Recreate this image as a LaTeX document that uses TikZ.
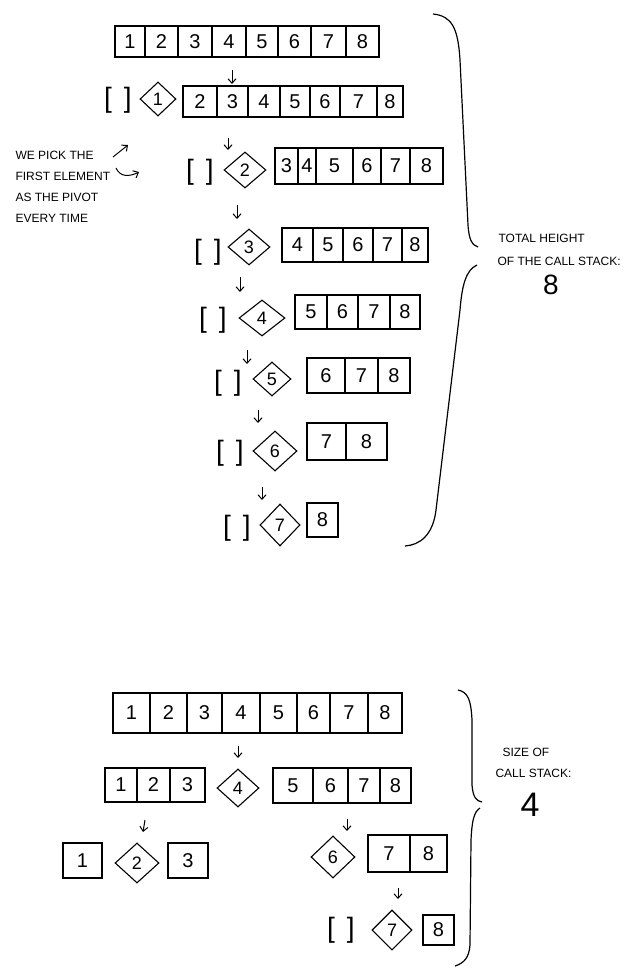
\documentclass[tikz,border=0pt]{standalone}
\usepackage{fontspec}
\setmainfont{Liberation Sans}
\usetikzlibrary{shapes.geometric,arrows.meta}
\newcommand\cellrow[4]{%
  \foreach \a/\b/\l in {#4}{%
    \pgfmathsetmacro\w{\b-\a}\pgfmathsetmacro\h{#3-#2}%
    \pgfmathsetmacro\cx{(\a+\b)/2}\pgfmathsetmacro\cy{(#2+#3)/2}%
    \node[cell, minimum width=\w pt, minimum height=\h pt] (#1\l) at (\cx,\cy) {\l};}}
\newcommand\piv[6]{\node[pivot, minimum width=#4*2pt, minimum height=#5*2pt] (#1) at (#2,#3) {#6};}
\newcommand\darrow[5]{\coordinate (#1s) at (#2,#3); \coordinate (#1e) at (#4,#5); \draw[arr] (#1s) -- (#1e);}
\begin{document}
\begin{tikzpicture}[x=1pt,y=-1pt, line width=1.1pt,
 cell/.style={draw, inner sep=0, font=\fontsize{20}{20}\selectfont},
 pivot/.style={draw, diamond, inner sep=0, font=\fontsize{18}{18}\selectfont},
 empty/.style={inner sep=0, font=\fontsize{28}{28}\selectfont},
 note/.style={anchor=west, inner sep=0, font=\fontsize{12}{14}\selectfont},
 big/.style={inner sep=0, font=\fontsize{28}{28}\selectfont},
 arr/.style={-{Straight Barb[length=4.5pt,width=8pt]}, line width=1pt},
 brace/.style={line width=1.2pt}]
\fill[white] (0,0) rectangle (643,974);
\useasboundingbox (0,0) rectangle (643,974);

% ---------- top: worst case ----------
\cellrow{a}{26}{57}{115/145/1,145/178/2,178/212/3,212/246/4,246/278/5,278/311/6,311/346/7,346/379/8}
\darrow{r1}{232}{70}{232}{84}
\node[empty] (e1) at (118,100) {[\hspace{12pt}]};
\piv{p1}{158}{99}{18}{17}{1}
\cellrow{b}{86}{117}{183/217/2,217/248/3,248/280/4,280/310/5,310/340/6,340/377/7,377/403/8}
\darrow{r2}{228}{138}{228}{150}
\node[empty] (e2) at (200,172) {[\hspace{12pt}]};
\piv{p2}{245}{170}{21}{18}{2}
\cellrow{c}{148}{184}{275/298/3,298/316/4,316/353/5,353/381/6,381/410/7,410/443/8}
\darrow{r3}{237}{205}{237}{219}
\node[empty] (e3) at (208,252) {[\hspace{12pt}]};
\piv{p3}{249}{247}{21}{18}{3}
\cellrow{d}{228}{262}{282/313/4,313/343/5,343/373/6,373/402/7,402/428/8}
\darrow{r4}{240}{277}{240}{292}
\node[empty] (e4) at (213,320) {[\hspace{12pt}]};
\piv{p4}{262}{318}{23}{18}{4}
\cellrow{e}{295}{329}{295/327/5,327/358/6,358/390/7,390/420/8}
\darrow{r5}{247}{350}{247}{364}
\node[empty] (e5) at (228,383) {[\hspace{12pt}]};
\piv{p5}{272}{379}{19}{17}{5}
\cellrow{f}{358}{393}{307/345/6,345/378/7,378/410/8}
\darrow{r6}{258}{410}{258}{423}
\node[empty] (e6) at (230,453) {[\hspace{12pt}]};
\piv{p6}{275}{451}{22}{20}{6}
\cellrow{g}{423}{460}{307/346/7,346/387/8}
\darrow{r7}{262}{487}{262}{500}
\node[empty] (e7) at (237,528) {[\hspace{12pt}]};
\piv{p7}{280}{525}{20}{21}{7}
\cellrow{h}{503}{537}{307/338/8}

% left note
\node[note] (n1) at (15,155) {WE PICK THE};
\node[note] (n2) at (15,176) {FIRST ELEMENT};
\node[note] (n3) at (15,197) {AS THE PIVOT};
\node[note] (n4) at (15,218) {EVERY TIME};
\coordinate (na) at (113,157); \coordinate (nb) at (128,145);
\draw[arr] (na) -- (nb);
\coordinate (nc) at (116,168); \coordinate (nd) at (139,172);
\draw[arr] (nc) .. controls (120,177) and (129,177) .. (nd);

% top brace
\draw[brace] (433,14) .. controls (452,16) and (458,28) .. (460,60) -- (468,225)
  .. controls (469,240) and (472,245) .. (478,247);
\draw[brace] (477,265) .. controls (466,270) and (462,285) .. (460,310) -- (436,510)
  .. controls (433,535) and (420,545) .. (405,546);
\node[note] (t1) at (498,238) {TOTAL HEIGHT};
\node[note] (t2) at (497,261) {OF THE CALL STACK:};
\node[big] (t3) at (551,285) {8};

% ---------- bottom: best case ----------
\cellrow{i}{693}{733}{113/150/1,150/187/2,187/222/3,222/260/4,260/297/5,297/330/6,330/368/7,368/402/8}
\darrow{s1}{238}{746}{238}{758}
\cellrow{j}{768}{802}{105/137/1,137/170/2,170/205/3}
\piv{q4}{238}{788}{21}{19}{4}
\cellrow{k}{768}{803}{273/313/5,313/348/6,348/380/7,380/411/8}
\darrow{s2}{145}{820}{143}{832}
\darrow{s3}{347}{819}{347}{831}
\cellrow{l}{843}{878}{63/102/1}
\piv{q2}{137}{863}{22}{20}{2}
\cellrow{l}{843}{878}{168/208/3}
\piv{q6}{333}{857}{22}{21}{6}
\cellrow{m}{835}{872}{368/410/7,410/447/8}
\darrow{s4}{398}{888}{398}{899}
\node[empty] (e8) at (341,930) {[\hspace{12pt}]};
\piv{q7}{392}{930}{20}{20}{7}
\cellrow{n}{915}{945}{423/454/8}

% bottom brace
\draw[brace] (458,690) .. controls (468,692) and (471,700) .. (472,720) -- (472,785)
  .. controls (473,797) and (476,801) .. (482,802);
\draw[brace] (480,808) .. controls (474,812) and (472,820) .. (471,840) -- (470,945)
  .. controls (469,958) and (464,963) .. (455,966);
\node[note] (u1) at (502,752) {SIZE OF};
\node[note] (u2) at (495,773) {CALL STACK:};
\node[big, font=\fontsize{34}{34}\selectfont] (u3) at (530,805) {4};
\end{tikzpicture}
\end{document}
